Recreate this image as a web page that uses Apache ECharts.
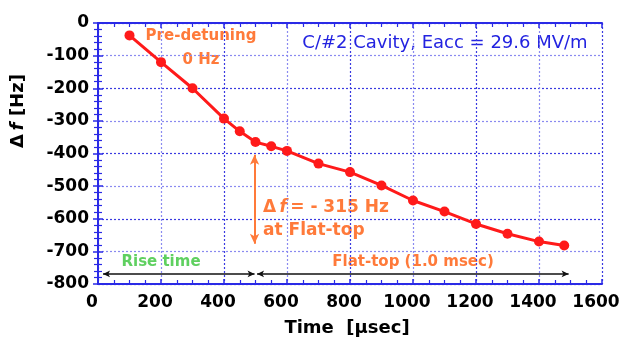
<!DOCTYPE html>
<html>
<head>
<meta charset="utf-8">
<script src="https://cdn.jsdelivr.net/npm/echarts@6/dist/echarts.min.js"></script>
<style>
  html, body { margin: 0; padding: 0; background: #fff; }
  #chart { width: 623px; height: 344px; }
</style>
</head>
<body>
<div id="chart"></div>
<script>
// Detuning during the RF pulse, measured every 100 µs (plus two extra points near 500 µs)
const timeUs = [100, 200, 300, 400, 450, 500, 550, 600, 700, 800, 900, 1000, 1100, 1200, 1300, 1400, 1480];
const detuneHz = [-38, -120, -200, -293, -332, -365, -378, -392, -431, -457, -498, -544, -578, -616, -646, -670, -682];

const xTicks = [0, 1600, 200];    // min, max, interval
const yTicks = [-800, 0, 100];

const AXIS_BLUE = '#2a2ae6';
const ORANGE = '#ff7a3a';
const FONT = 'DejaVu Sans';

const chart = echarts.init(document.getElementById('chart'), null, { renderer: 'canvas' });

const gridLines = (colors) => ({ show: true, lineStyle: { color: colors, type: [2, 2], width: 1.2 } });

const mirrorAxis = {
  axisLine: { show: true, lineStyle: { color: AXIS_BLUE, width: 2 } },
  axisTick: { show: true, inside: true, length: 5, lineStyle: { color: AXIS_BLUE, width: 1.5 } },
  minorTick: { show: true, inside: true, length: 4, lineStyle: { color: AXIS_BLUE, width: 1.2 } },
  axisLabel: { show: false },
  splitLine: { show: false }
};

const plain = (v) => String(v);

chart.setOption({
  animation: false,
  grid: { left: 98, right: 21, top: 23, bottom: 60, containLabel: false, outerBoundsMode: 'none' },
  xAxis: [
    {
      type: 'value', position: 'bottom',
      min: xTicks[0], max: xTicks[1], interval: xTicks[2],
      axisLine: { show: true, onZero: false, lineStyle: { color: AXIS_BLUE, width: 2 } },
      axisTick: { show: true, inside: true, length: 5, lineStyle: { color: AXIS_BLUE, width: 1.5 } },
      minorTick: { show: true, inside: true, splitNumber: 4, length: 4, lineStyle: { color: AXIS_BLUE, width: 1.2 } },
      axisLabel: { color: '#000', fontFamily: FONT, fontWeight: 'bold', fontSize: 17, margin: 10,
                   padding: [0, 12, 0, 0], formatter: plain },
      splitLine: gridLines(['#3a3ae0', '#8a8af0'])
    },
    Object.assign({
      type: 'value', position: 'top',
      min: xTicks[0], max: xTicks[1], interval: xTicks[2]
    }, mirrorAxis, { minorTick: Object.assign({}, mirrorAxis.minorTick, { splitNumber: 4 }) })
  ],
  yAxis: [
    {
      type: 'value', position: 'left',
      min: yTicks[0], max: yTicks[1], interval: yTicks[2],
      axisLine: { show: true, onZero: false, lineStyle: { color: AXIS_BLUE, width: 2 } },
      axisTick: { show: true, inside: true, length: 5, lineStyle: { color: AXIS_BLUE, width: 1.5 } },
      minorTick: { show: true, inside: true, splitNumber: 5, length: 4, lineStyle: { color: AXIS_BLUE, width: 1.2 } },
      axisLabel: { color: '#000', fontFamily: FONT, fontWeight: 'bold', fontSize: 17, margin: 9,
                   padding: [0, 0, 10, 0], formatter: plain },
      splitLine: gridLines(['#3a3ae0', '#8a8af0'])
    },
    Object.assign({
      type: 'value', position: 'right',
      min: yTicks[0], max: yTicks[1], interval: yTicks[2]
    }, mirrorAxis, { minorTick: Object.assign({}, mirrorAxis.minorTick, { splitNumber: 5 }) })
  ],
  series: [
    {
      type: 'line',
      data: timeUs.map((t, i) => [t, detuneHz[i]]),
      symbol: 'circle', symbolSize: 10,
      lineStyle: { color: '#ff1a1a', width: 3 },
      itemStyle: { color: '#ff1a1a' },
      z: 5,
      markLine: {
        silent: true,
        label: { show: false },
        data: [
          // Δf span at flat-top start
          [{ coord: [497, -404], symbol: 'arrow', symbolSize: [7, 10], lineStyle: { color: ORANGE, width: 2, type: 'solid' } },
           { coord: [497, -677], symbol: 'arrow', symbolSize: [7, 10] }],
          // Rise-time span
          [{ coord: [16, -769], symbol: 'arrow', symbolSize: [5, 7], lineStyle: { color: '#111', width: 1.5, type: 'solid' } },
           { coord: [497, -769], symbol: 'arrow', symbolSize: [5, 7] }],
          // Flat-top span
          [{ coord: [505, -769], symbol: 'arrow', symbolSize: [5, 7], lineStyle: { color: '#111', width: 1.5, type: 'solid' } },
           { coord: [1494, -769], symbol: 'arrow', symbolSize: [5, 7] }]
        ]
      }
    }
  ],
  graphic: [
    {
      type: 'text', x: 18, y: 111, rotation: Math.PI / 2,
      style: {
        text: '{a|Δ} {f|f}  {a|[Hz]}',
        textAlign: 'center', textVerticalAlign: 'middle',
        rich: {
          a: { fontFamily: FONT, fontWeight: 'bold', fontSize: 18, fill: '#000' },
          f: { fontFamily: FONT, fontWeight: 'bold', fontStyle: 'italic', fontSize: 18, fill: '#000' }
        }
      }
    },
    {
      type: 'text',
      style: { text: 'Time  [μsec]', x: 347, y: 328, textAlign: 'center', textVerticalAlign: 'middle',
               fontFamily: FONT, fontWeight: 'bold', fontSize: 18, fill: '#000' }
    },
    {
      type: 'text',
      style: { text: 'Pre-detuning\n0 Hz', x: 201, y: 48, textAlign: 'center', textVerticalAlign: 'middle',
               fontFamily: FONT, fontWeight: 'bold', fontSize: 15, lineHeight: 24, fill: ORANGE }
    },
    {
      type: 'text',
      style: { text: 'C/#2 Cavity, Eacc = 29.6 MV/m', x: 445, y: 43, textAlign: 'center', textVerticalAlign: 'middle',
               fontFamily: FONT, fontSize: 18, fill: '#2323e0' }
    },
    {
      type: 'text',
      style: { text: '{i|Δ} {f|f} {i|= - 315 Hz}\n{i|at Flat-top}', x: 263, y: 219, textVerticalAlign: 'middle',
               rich: {
                 i: { fontFamily: FONT, fontWeight: 'bold', fontSize: 17, fill: ORANGE, lineHeight: 23 },
                 f: { fontFamily: FONT, fontWeight: 'bold', fontStyle: 'italic', fontSize: 17, fill: ORANGE, lineHeight: 23 }
               } }
    },
    {
      type: 'text',
      style: { text: 'Rise time', x: 161, y: 262, textAlign: 'center', textVerticalAlign: 'middle',
               fontFamily: FONT, fontWeight: 'bold', fontSize: 15, fill: '#5fd060' }
    },
    {
      type: 'text',
      style: { text: 'Flat-top (1.0 msec)', x: 413, y: 262, textAlign: 'center', textVerticalAlign: 'middle',
               fontFamily: FONT, fontWeight: 'bold', fontSize: 15, fill: ORANGE }
    }
  ]
});
</script>
</body>
</html>
